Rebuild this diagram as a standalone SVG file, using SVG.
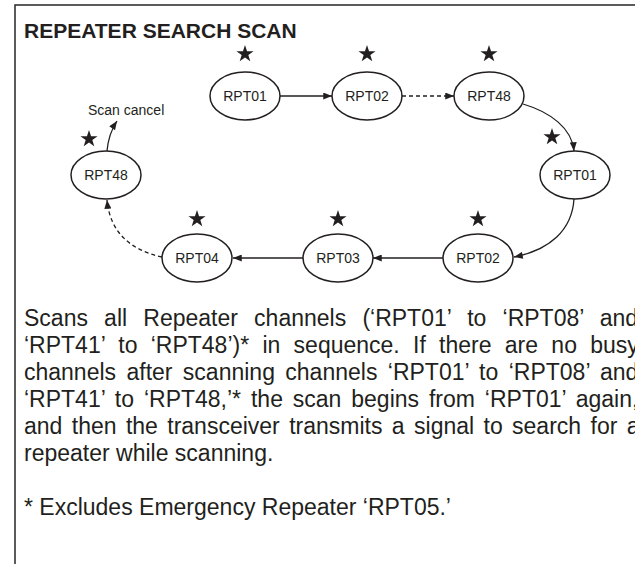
<svg xmlns="http://www.w3.org/2000/svg" width="635" height="564" viewBox="0 0 635 564">
<style>
.frame{fill:none;stroke:#333;stroke-width:1.6}
.title{font-family:"Liberation Sans",Arial,sans-serif;font-weight:bold;font-size:21px;fill:#231f20}
.body{font-family:"Liberation Sans",Arial,sans-serif;font-size:23px;fill:#231f20}
.node ellipse{fill:#fff;stroke:#231f20;stroke-width:1.5}
.node text{font-family:"Liberation Sans",Arial,sans-serif;font-size:14px;fill:#231f20;text-anchor:middle}
.lbl{font-family:"Liberation Sans",Arial,sans-serif;font-size:14px;fill:#231f20}
.star{fill:#231f20}
.conn path,.conn line{fill:none;stroke:#231f20;stroke-width:1.3;marker-end:url(#arr)}
.dot{stroke-dasharray:4 3}
</style>
<defs>
<marker id="arr" viewBox="0 0 10 8" refX="10" refY="4" markerWidth="10" markerHeight="7" markerUnits="userSpaceOnUse" orient="auto">
<path d="M0,0 L10,4 L0,8 Z" fill="#231f20"/>
</marker>
<path id="star" d="M0,-9 L2.06,-2.83 L8.56,-2.78 L3.33,1.08 L5.29,7.28 L0,3.5 L-5.29,7.28 L-3.33,1.08 L-8.56,-2.78 L-2.06,-2.83 Z"/>
</defs>
<rect class="frame" x="15" y="5" width="640" height="580"/>
<text class="title" x="24" y="38">REPEATER SEARCH SCAN</text>

<g class="conn">
<line x1="280" y1="96" x2="332" y2="96"/>
<line class="dot" x1="402" y1="96" x2="454" y2="96"/>
<path d="M523,104 C550,112 572,128 574,151"/>
<path d="M574,199 C572,230 550,250 514,257"/>
<line x1="443" y1="258" x2="373" y2="258"/>
<line x1="303" y1="258" x2="233" y2="258"/>
<path class="dot" d="M162,257 C130,250 110,232 107,200"/>
<path d="M107,151 C108,140 111,130 117,121"/>
</g>

<g id="n-rpt01-top" class="node"><use href="#star" class="star" x="245" y="54"/><ellipse cx="245" cy="96" rx="35" ry="24"/><text x="245" y="101">RPT01</text></g>
<g id="n-rpt02-top" class="node"><use href="#star" class="star" x="367" y="54"/><ellipse cx="367" cy="96" rx="35" ry="24"/><text x="367" y="101">RPT02</text></g>
<g id="n-rpt48-top" class="node"><use href="#star" class="star" x="489" y="54"/><ellipse cx="489" cy="96" rx="35" ry="24"/><text x="489" y="101">RPT48</text></g>
<g id="n-rpt01-right" class="node"><use href="#star" class="star" x="552" y="137"/><ellipse cx="575" cy="175" rx="35" ry="24"/><text x="575" y="180">RPT01</text></g>
<g id="n-rpt02-bottom" class="node"><use href="#star" class="star" x="478" y="219"/><ellipse cx="478" cy="258" rx="35" ry="24"/><text x="478" y="263">RPT02</text></g>
<g id="n-rpt03" class="node"><use href="#star" class="star" x="338" y="219"/><ellipse cx="338" cy="258" rx="35" ry="24"/><text x="338" y="263">RPT03</text></g>
<g id="n-rpt04" class="node"><use href="#star" class="star" x="197" y="219"/><ellipse cx="197" cy="258" rx="35" ry="24"/><text x="197" y="263">RPT04</text></g>
<g id="n-rpt48-left" class="node"><use href="#star" class="star" x="89" y="139"/><ellipse cx="106" cy="175" rx="35" ry="24"/><text x="106" y="180">RPT48</text></g>
<text class="lbl" x="88" y="115">Scan cancel</text>

<text class="body" x="24" y="326" style="word-spacing:9.8px">Scans all Repeater channels (&#8216;RPT01&#8217; to &#8216;RPT08&#8217; and</text>
<text class="body" x="24" y="353" style="word-spacing:6.9px">&#8216;RPT41&#8217; to &#8216;RPT48&#8217;)* in sequence. If there are no busy</text>
<text class="body" x="24" y="380" style="word-spacing:4px">channels after scanning channels &#8216;RPT01&#8217; to &#8216;RPT08&#8217; and</text>
<text class="body" x="24" y="407" style="word-spacing:3.5px">&#8216;RPT41&#8217; to &#8216;RPT48,&#8217;* the scan begins from &#8216;RPT01&#8217; again,</text>
<text class="body" x="24" y="434" style="word-spacing:3px">and then the transceiver transmits a signal to search for a</text>
<text class="body" x="24" y="461">repeater while scanning.</text>
<text class="body" x="24" y="515">* Excludes Emergency Repeater &#8216;RPT05.&#8217;</text>
</svg>
